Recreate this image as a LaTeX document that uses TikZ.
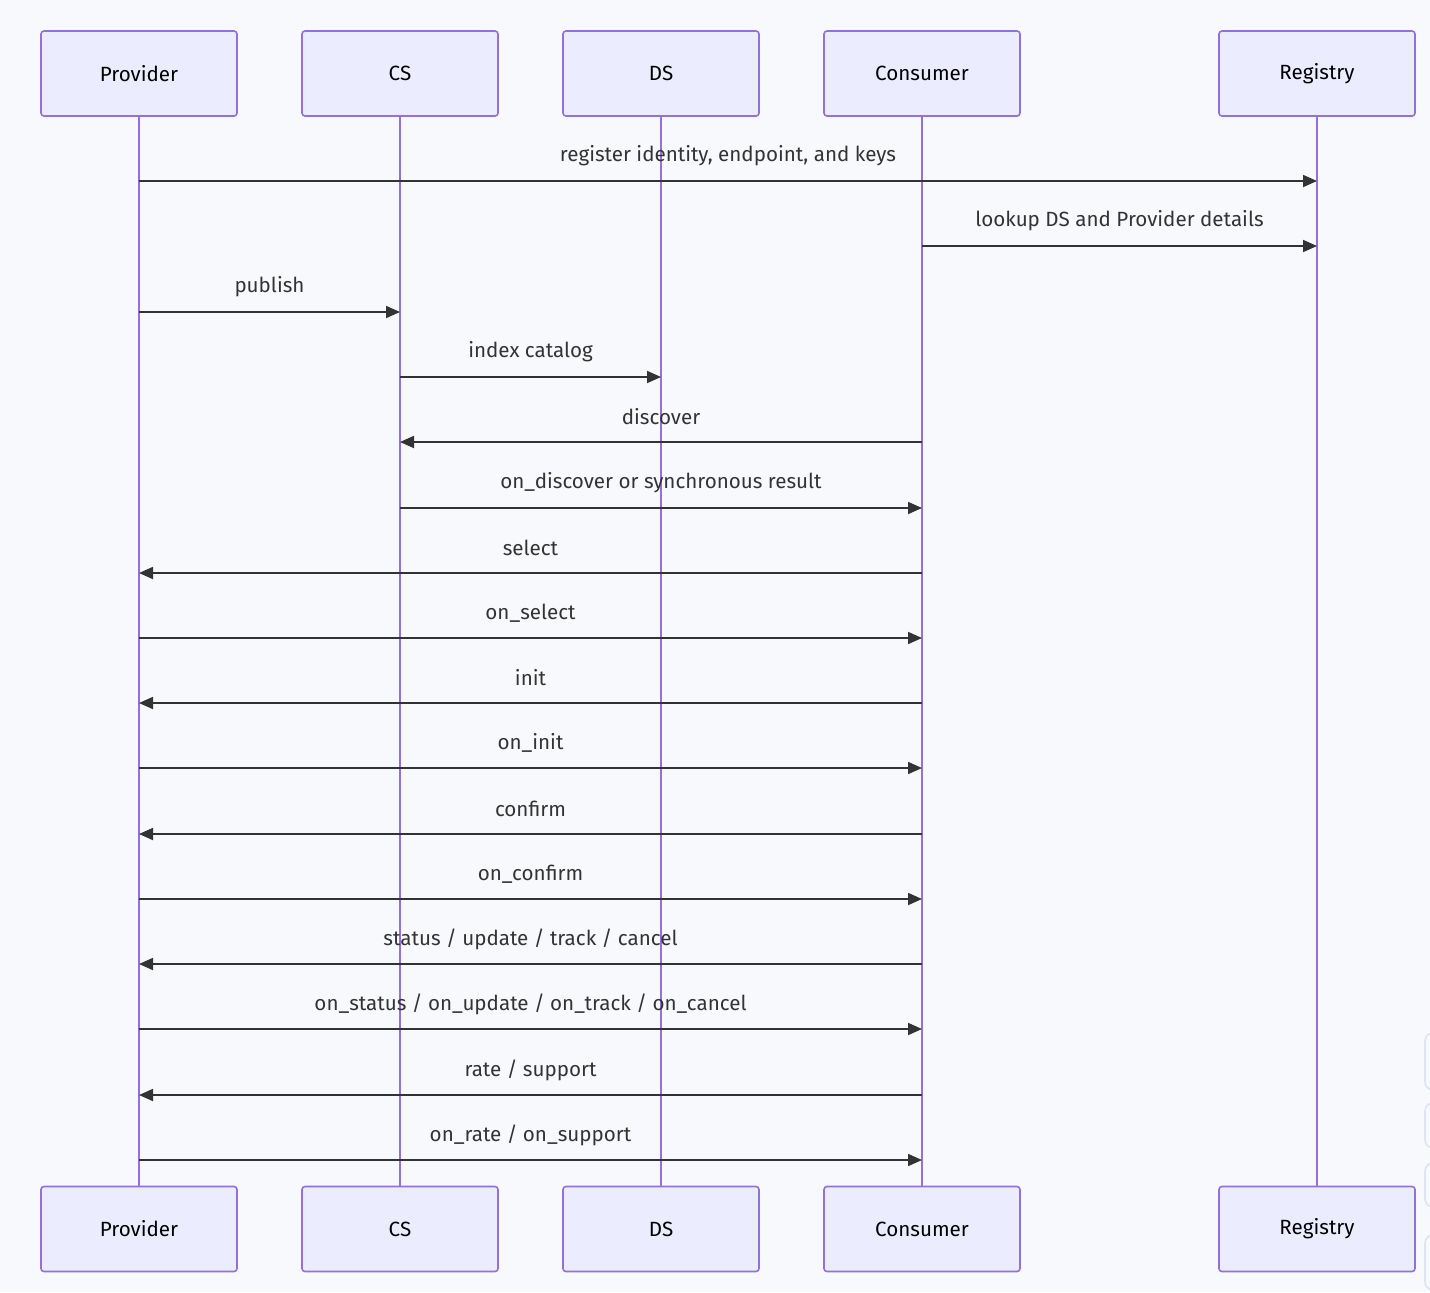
\documentclass[tikz,border=0pt]{standalone}
\usepackage{fontspec}
\setmainfont{Fira Sans}
\usetikzlibrary{arrows.meta,positioning}
\definecolor{actorfill}{HTML}{ECECFF}
\definecolor{actorline}{HTML}{9370DB}
\definecolor{msgline}{HTML}{333333}
\definecolor{pagebg}{HTML}{F8F9FC}
\definecolor{ghost}{HTML}{DDE4F4}

\begin{document}
\begin{tikzpicture}[x=0.5pt,y=-0.5pt,
      every node/.style={font=\fontsize{10.3}{12}\selectfont},
      actor/.style={draw=actorline,fill=actorfill,line width=0.8pt,rounded corners=1.5pt,
        minimum width=98pt,minimum height=42.5pt,inner sep=0pt},
      life/.style={draw=actorline,line width=1pt},
      msg/.style={draw=msgline,line width=0.9pt,-{Triangle[length=7pt,width=6pt]}},
      lbl/.style={text=msgline,inner sep=0pt}]
    \useasboundingbox[fill=pagebg] (0,0) rectangle (1430,1292);
    % faint boxes cut by the right edge
    \foreach \ya/\yb in {1033/1090,1103/1148,1163/1207,1235/1290}
      \draw[ghost,line width=0.8pt,rounded corners=4pt] (1425,\ya) rectangle (1480,\yb);
    \foreach \n/\x/\t in {prov/139/Provider,cs/400/CS,ds/661/DS,cons/922/Consumer,reg/1317/Registry}{
      \node[actor] (\n) at (\x,73.5) {\t};
      \node[actor] (\n b) at (\x,1229) {\t};
      \draw[life] (\n.south) -- (\n b.north);
    }
    \foreach \y/\a/\b/\t in {181/prov/reg/{register identity, endpoint, and keys},
        246/cons/reg/{lookup DS and Provider details},
        312/prov/cs/{publish},
        377/cs/ds/{index catalog},
        442/cons/cs/{discover},
        508/cs/cons/{on\_discover or synchronous result},
        573/cons/prov/{select},
        638/prov/cons/{on\_select},
        703/cons/prov/{init},
        768/prov/cons/{on\_init},
        834/cons/prov/{confirm},
        899/prov/cons/{on\_confirm},
        964/cons/prov/{status / update / track / cancel},
        1029/prov/cons/{on\_status / on\_update / on\_track / on\_cancel},
        1095/cons/prov/{rate / support},
        1160/prov/cons/{on\_rate / on\_support}}
      \draw[msg] (\a.south |- 0,\y) -- (\b.south |- 0,\y)
        node[lbl,midway,yshift=12.5pt] {\t};
  \end{tikzpicture}
\end{document}
